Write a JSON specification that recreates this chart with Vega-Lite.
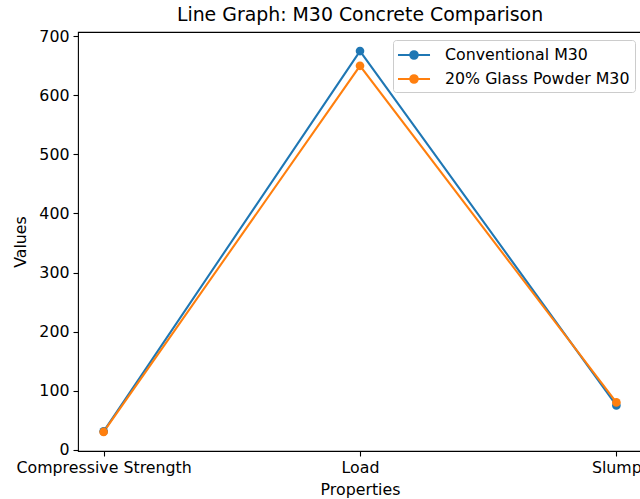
{
  "$schema": "https://vega.github.io/schema/vega-lite/v6.json",
  "width": 564,
  "height": 419,
  "autosize": {"type": "none"},
  "padding": {"left": 78, "top": 32, "right": 0, "bottom": 48},
  "background": "white",
  "title": {
    "text": "Line Graph: M30 Concrete Comparison",
    "font": "DejaVu Sans",
    "fontSize": 18.9,
    "fontWeight": "normal",
    "color": "black",
    "anchor": "middle",
    "frame": "group",
    "offset": 3
  },
  "config": {
    "font": "DejaVu Sans",
    "view": {"stroke": "black", "strokeWidth": 1.1},
    "axis": {
      "labelFont": "DejaVu Sans",
      "labelFontSize": 15.8,
      "labelColor": "black",
      "titleFont": "DejaVu Sans",
      "titleFontSize": 15.8,
      "titleFontWeight": "normal",
      "titleColor": "black",
      "tickColor": "black",
      "tickSize": 5,
      "tickWidth": 1.1,
      "labelPadding": 4,
      "domain": false,
      "grid": false
    }
  },
  "data": {
    "values": [
      {"property": "Compressive Strength", "series": "Conventional M30", "value": 31},
      {"property": "Load", "series": "Conventional M30", "value": 675},
      {"property": "Slump", "series": "Conventional M30", "value": 75},
      {"property": "Compressive Strength", "series": "20% Glass Powder M30", "value": 30},
      {"property": "Load", "series": "20% Glass Powder M30", "value": 650},
      {"property": "Slump", "series": "20% Glass Powder M30", "value": 80}
    ]
  },
  "encoding": {
    "x": {
      "field": "property",
      "type": "ordinal",
      "sort": ["Compressive Strength", "Load", "Slump"],
      "scale": {"type": "point", "padding": 0.1},
      "axis": {"title": "Properties", "labelAngle": 0, "labelOverlap": false, "titlePadding": 8}
    },
    "y": {
      "field": "value",
      "type": "quantitative",
      "scale": {"domain": [-2.25, 707.25], "nice": false, "zero": false},
      "axis": {"title": "Values", "values": [0, 100, 200, 300, 400, 500, 600, 700], "titlePadding": 10}
    },
    "color": {
      "field": "series",
      "type": "nominal",
      "scale": {"domain": ["Conventional M30", "20% Glass Powder M30"], "range": ["#1f77b4", "#ff7f0e"]},
      "legend": {
        "title": null,
        "orient": "none",
        "legendX": 315,
        "legendY": 8,
        "padding": 5,
        "fillColor": "rgba(255,255,255,0.8)",
        "strokeColor": "#cccccc",
        "cornerRadius": 3,
        "labelFont": "DejaVu Sans",
        "labelFontSize": 15.8,
        "labelColor": "black",
        "labelLimit": 300,
        "labelOffset": 27,
        "rowPadding": 6,
        "symbolType": "M-1.78,0H1.78M-0.42,0A0.42,0.42 0 1,0 0.42,0A0.42,0.42 0 1,0 -0.42,0",
        "symbolSize": 324,
        "symbolStrokeWidth": 2,
        "encode": {
          "symbols": {
            "update": {
              "x": {"value": 16},
              "fill": {"scale": "color", "field": "value"},
              "stroke": {"scale": "color", "field": "value"},
              "strokeWidth": {"value": 2},
              "opacity": {"value": 1}
            }
          }
        }
      }
    }
  },
  "layer": [
    {"mark": {"type": "line", "strokeWidth": 2.08}},
    {"mark": {"type": "point", "filled": true, "size": 75, "opacity": 1, "shape": "circle"}}
  ]
}
